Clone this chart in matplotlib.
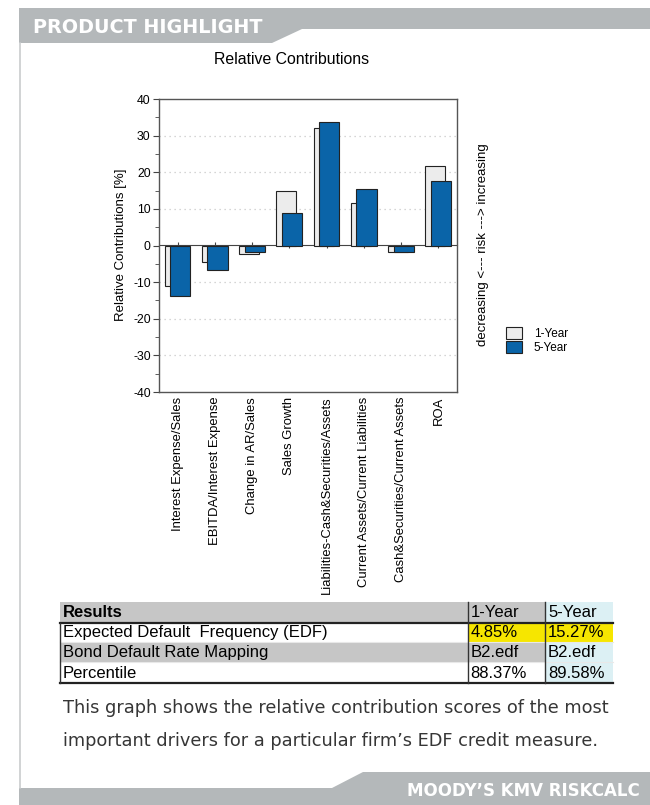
import matplotlib
matplotlib.use("Agg")
import matplotlib.pyplot as plt
from matplotlib.patches import Polygon, Rectangle

plt.rcParams["axes.unicode_minus"] = False

# ---------------- data ----------------
categories = ["Interest Expense/Sales", "EBITDA/Interest Expense", "Change in AR/Sales",
              "Sales Growth", "Liabilities-Cash&Securities/Assets",
              "Current Assets/Current Liabilities", "Cash&Securities/Current Assets", "ROA"]
one_year = [-11.0, -4.4, -2.4, 14.9, 32.2, 11.5, -1.8, 21.7]
five_year = [-13.9, -6.6, -1.8, 9.0, 33.8, 15.5, -1.8, 17.5]
series_names = ["1-Year", "5-Year"]
y_ticks = [40, 30, 20, 10, 0, -10, -20, -30, -40]

table_header = ["Results", "1-Year", "5-Year"]
table_rows = ["Expected Default  Frequency (EDF)", "Bond Default Rate Mapping", "Percentile"]
table_1yr = ["4.85%", "B2.edf", "88.37%"]
table_5yr = ["15.27%", "B2.edf", "89.58%"]

title = "Relative Contributions"
ylabel = "Relative Contributions [%]"
side_label = "decreasing <--- risk ---> increasing"
header_text = "PRODUCT HIGHLIGHT"
footer_text = "MOODY\u2019S KMV RISKCALC"
caption = ["This graph shows the relative contribution scores of the most",
           "important drivers for a particular firm\u2019s EDF credit measure."]

# ---------------- figure ----------------
W, H = 650, 805
fig = plt.figure(figsize=(W / 100, H / 100), dpi=100)
fig.patch.set_facecolor("white")

bg = fig.add_axes([0, 0, 1, 1], zorder=0)
bg.set_xlim(0, W)
bg.set_ylim(H, 0)
bg.axis("off")

band = "#b4b8ba"
bg.add_patch(Polygon([(19, 8), (W, 8), (W, 29), (302, 29), (272, 43), (19, 43)],
                     closed=True, facecolor=band, edgecolor="none"))
bg.add_patch(Polygon([(19, H), (19, 788), (332, 788), (363, 772), (W, 772), (W, H)],
                     closed=True, facecolor=band, edgecolor="none"))
bg.plot([20, 20], [43, 788], color="#c9cccd", lw=1.2)
bg.text(33, 27.5, header_text, color="white", fontsize=13.8, fontweight="bold",
        family="DejaVu Sans", ha="left", va="center")
bg.text(640, 791, footer_text, color="white", fontsize=12, fontweight="bold",
        family="DejaVu Sans", ha="right", va="center")
for i, line in enumerate(caption):
    bg.text(63, 708 + 32.5 * i, line, color="#363636", fontsize=12.8, family="DejaVu Sans",
            ha="left", va="center")

bg.text(292, 60, title, fontsize=11.4, family="Liberation Sans", ha="center", va="center")
bg.text(121, 245, ylabel, fontsize=9.5, family="Liberation Sans", rotation=90,
        ha="center", va="center")
bg.text(483, 245, side_label, fontsize=9.5, family="Liberation Sans", rotation=90,
        ha="center", va="center")

# ---------------- chart ----------------
L, R, T, B = 159, 457, 99, 392
ax = fig.add_axes([L / W, 1 - B / H, (R - L) / W, (B - T) / H], zorder=2)
x = list(range(len(categories)))
bw = 0.54
b1 = ax.bar([i - 0.08 for i in x], one_year, width=bw, color="#ececec",
            edgecolor="#222222", linewidth=0.8, label=series_names[0], zorder=2)
b5 = ax.bar([i + 0.07 for i in x], five_year, width=bw, color="#0a64a8",
            edgecolor="#222222", linewidth=0.8, label=series_names[1], zorder=3)
ax.set_xlim(-0.5, len(categories) - 0.5)
ax.set_ylim(-40, 40)
ax.set_yticks(y_ticks)
ax.set_yticks([v + 5 for v in y_ticks[1:]], minor=True)
ax.tick_params(axis="y", which="major", length=4, labelsize=8.8, pad=2, direction="out",
               color="#444444")
ax.tick_params(axis="y", which="minor", length=3, direction="out", color="#444444")
for t in ax.get_yticklabels():
    t.set_family("Liberation Sans")
ax.set_xticks(x)
ax.set_xticklabels(categories, rotation=90, fontsize=9.4, family="Liberation Sans",
                   va="top", ha="center")
ax.tick_params(axis="x", length=0, pad=3.5)
for s in ax.spines.values():
    s.set_color("#555555")
    s.set_linewidth(1.0)
for v in y_ticks[1:-1]:
    if v != 0:
        ax.axhline(v, color="#c8c8c8", lw=0.9, ls=(0, (1, 3)), zorder=1)
sec = ax.secondary_xaxis(0.5)
sec.set_xticks(x)
sec.set_xticklabels([""] * len(x))
sec.tick_params(direction="inout", length=5, color="#444444")
sec.spines["bottom"].set_color("#444444")
sec.spines["top"].set_color("#444444")
sec.spines["bottom"].set_linewidth(1.0)

ax.legend(handles=[b1, b5], loc="upper left", bbox_to_anchor=(506, 327),
          bbox_transform=bg.transData, frameon=False,
          prop={"family": "Liberation Sans", "size": 8.5}, borderpad=0,
          borderaxespad=0, handlelength=1.35, handleheight=1.15, handletextpad=1.0,
          labelspacing=0.1)

# ---------------- table ----------------
cols = [60, 467.5, 545, 613]
rows = [602, 622.5, 642, 662, 683]
gray = "#c6c6c6"
cyan = "#dcf0f4"
yellow = "#f6e600"
fills = [[gray, gray, cyan], ["white", yellow, yellow], [gray, gray, cyan], ["white", "white", cyan]]
texts = [table_header] + [[table_rows[i], table_1yr[i], table_5yr[i]] for i in range(len(table_rows))]
for r in range(4):
    for c in range(3):
        bg.add_patch(Rectangle((cols[c], rows[r]), cols[c + 1] - cols[c], rows[r + 1] - rows[r],
                               facecolor=fills[r][c], edgecolor="none"))
        bg.text(cols[c] + 3, (rows[r] + rows[r + 1]) / 2 + 0.5, texts[r][c], fontsize=12,
                family="Liberation Sans", fontweight="bold" if (r == 0 and c == 0) else "normal",
                ha="left", va="center")
bg.plot([cols[0], cols[-1]], [rows[1], rows[1]], color="#222222", lw=1.6)
bg.plot([cols[0], cols[-1]], [rows[-1], rows[-1]], color="#222222", lw=1.6)
for yy in rows[2:4]:
    bg.plot([cols[0], cols[-1]], [yy, yy], color="#e8e8e8", lw=0.8)
for xx in cols[1:3]:
    bg.plot([xx, xx], [rows[0], rows[-1]], color="#333333", lw=1.0)
bg.plot([cols[0], cols[0]], [rows[1], rows[-1]], color="#333333", lw=1.0)

fig.savefig("out.png", dpi=100)
